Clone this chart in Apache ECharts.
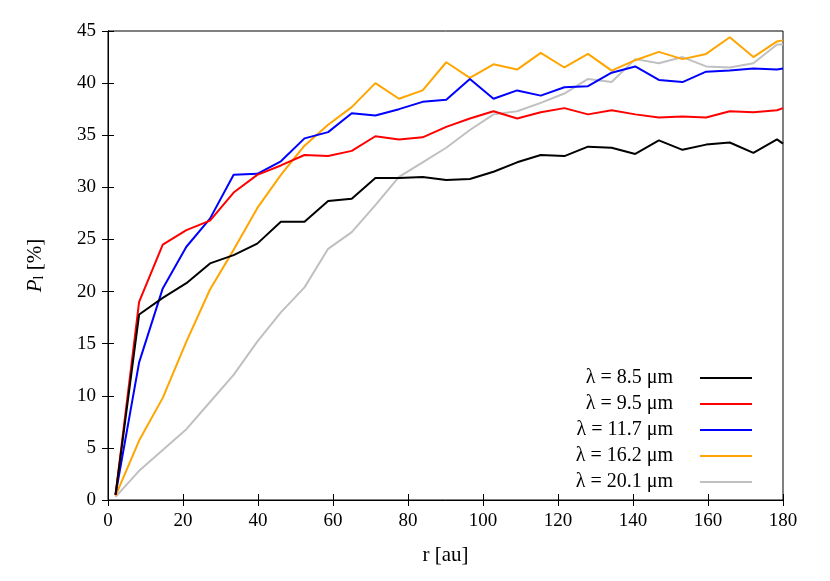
<!DOCTYPE html>
<html><head><meta charset="utf-8">
<script src="https://cdn.jsdelivr.net/npm/echarts@6/dist/echarts.min.js"></script>
<style>html,body{margin:0;padding:0;background:#fff}#c{width:830px;height:581px}</style>
</head><body><div id="c"></div>
<script>
var radii = [2, 8.3, 14.6, 20.9, 27.2, 33.5, 39.8, 46.1, 52.4, 58.7, 65, 71.3, 77.6, 83.9, 90.2, 96.5, 102.8, 109.1, 115.4, 121.7, 128, 134.3, 140.6, 146.9, 153.2, 159.5, 165.8, 172.1, 178.4, 180];
var p85 = [0.5, 17.8, 19.4, 20.8, 22.7, 23.5, 24.6, 26.7, 26.7, 28.7, 28.9, 30.9, 30.9, 31.0, 30.7, 30.8, 31.5, 32.4, 33.1, 33.0, 33.9, 33.8, 33.2, 34.5, 33.6, 34.1, 34.3, 33.3, 34.6, 34.2];
var p95 = [0.5, 19.0, 24.5, 25.9, 26.8, 29.5, 31.2, 32.1, 33.1, 33.0, 33.5, 34.9, 34.6, 34.8, 35.8, 36.6, 37.3, 36.6, 37.2, 37.6, 37.0, 37.4, 37.0, 36.7, 36.8, 36.7, 37.3, 37.2, 37.4, 37.6];
var p117 = [0.5, 13.2, 20.3, 24.3, 27.0, 31.2, 31.3, 32.5, 34.7, 35.3, 37.1, 36.9, 37.5, 38.2, 38.4, 40.4, 38.5, 39.3, 38.8, 39.6, 39.7, 41.0, 41.6, 40.3, 40.1, 41.1, 41.2, 41.4, 41.3, 41.4];
var p162 = [0.4, 5.7, 9.8, 15.2, 20.2, 24.0, 28.0, 31.2, 34.0, 36.0, 37.7, 40.0, 38.5, 39.3, 42.0, 40.5, 41.8, 41.3, 42.9, 41.5, 42.8, 41.2, 42.2, 43.0, 42.3, 42.8, 44.4, 42.5, 44.0, 44.1];
var p201 = [0.3, 2.8, 4.8, 6.8, 9.4, 12.0, 15.2, 18.0, 20.4, 24.1, 25.7, 28.3, 31.0, 32.4, 33.8, 35.5, 37.0, 37.3, 38.1, 39.0, 40.4, 40.1, 42.3, 41.9, 42.5, 41.6, 41.5, 41.9, 43.7, 43.7];
var names = ['λ = 8.5 μm', 'λ = 9.5 μm', 'λ = 11.7 μm', 'λ = 16.2 μm', 'λ = 20.1 μm'];
var colors = ['#000000', '#ff0000', '#0000ff', '#ffa500', '#c0c0c0'];
var sets = [p85, p95, p117, p162, p201];

var font = 'Liberation Serif, DejaVu Serif, serif';
function pair(v) { return v.map(function (y, i) { return [radii[i], y]; }); }
var chart = echarts.init(document.getElementById('c'));
var axisCommon = {
  axisLine: {show: true, lineStyle: {color: '#000', width: 1}},
  axisTick: {show: true, inside: true, length: 6, lineStyle: {color: '#000'}},
  splitLine: {show: false}
};
chart.setOption({
  animation: false,
  grid: {left: 108, right: 47, top: 31, bottom: 81, show: true, borderColor: '#000', borderWidth: 1},
  legend: {
    orient: 'vertical', right: 73, bottom: 84, align: 'right',
    itemWidth: 52, itemHeight: 2, itemGap: 6, icon: 'rect',
    textStyle: {fontFamily: font, fontSize: 20, color: '#000', padding: [0, 22, 0, 0]},
    data: names
  },
  xAxis: [Object.assign({
    type: 'value', min: 0, max: 180, interval: 20,
    name: 'r [au]', nameLocation: 'middle', nameGap: 45,
    nameTextStyle: {fontFamily: font, fontSize: 21, color: '#000'},
    axisLabel: {fontFamily: font, fontSize: 19, color: '#000', margin: 12}
  }, axisCommon),
  Object.assign({type: 'value', min: 0, max: 180, interval: 20, position: 'top', axisLabel: {show: false}}, axisCommon)],
  yAxis: [Object.assign({
    type: 'value', min: 0, max: 45, interval: 5,
    name: '{i|P}{s|l} [%]', nameLocation: 'middle', nameGap: 62,
    nameTextStyle: {fontFamily: font, fontSize: 21, color: '#000',
      rich: {i: {fontFamily: font, fontSize: 21, fontStyle: 'italic'}, s: {fontFamily: font, fontSize: 14, verticalAlign: 'bottom', padding: [8, 0, 0, 0]}}},
    axisLabel: {fontFamily: font, fontSize: 19, color: '#000', margin: 12}
  }, axisCommon),
  Object.assign({type: 'value', min: 0, max: 45, interval: 5, position: 'right', axisLabel: {show: false}}, axisCommon)],
  series: sets.map(function (d, k) {
    return {
      name: names[k], type: 'line', data: pair(d), showSymbol: false, symbol: 'none',
      lineStyle: {color: colors[k], width: 2}, itemStyle: {color: colors[k]}, z: 10 - k
    };
  })
});
</script></body></html>
